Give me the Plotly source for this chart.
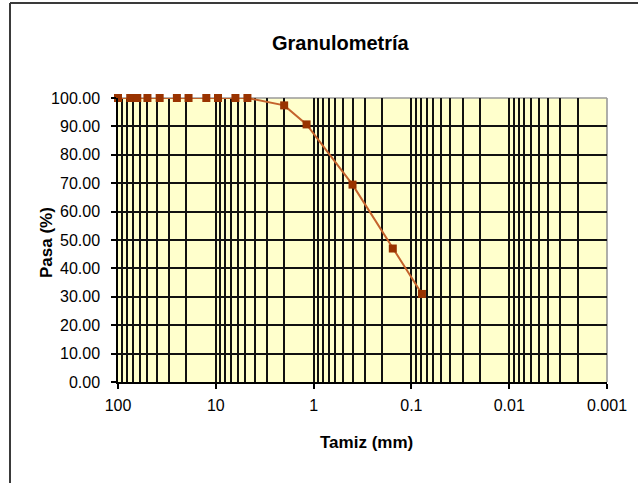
import plotly.graph_objects as go

# ---- data ----
tamiz_mm = [100, 75, 63.5, 50, 37.5, 25, 19, 12.5, 9.5, 6.3, 4.75, 2.0, 1.18, 0.4, 0.155, 0.078]
pasa_pct = [100, 100, 100, 100, 100, 100, 100, 100, 100, 100, 100, 97.4, 90.7, 69.5, 47.0, 31.0]
x_tick_vals = [100, 10, 1, 0.1, 0.01, 0.001]
x_tick_text = ["100", "10", "1", "0.1", "0.01", "0.001"]
y_tick_vals = [0, 10, 20, 30, 40, 50, 60, 70, 80, 90, 100]

W, H = 638, 483
ML, MR, MT, MB = 118, 31, 98, 101
PW, PH = W - ML - MR, H - MT - MB


def px(x):
    return (x - ML) / PW


def py(y):
    return (H - MB - y) / PH


minor_vals = [k * 10.0 ** n for n in range(-3, 2) for k in range(2, 10)]

font = "Liberation Sans, Arial, sans-serif"
grid_c = "#111111"
grid_w = 1.6

fig = go.Figure()
fig.add_trace(go.Scatter(
    x=tamiz_mm, y=pasa_pct, mode="lines+markers",
    line=dict(color="#C4632C", width=2),
    marker=dict(symbol="square", size=8, color="#993300", line=dict(width=0)),
    cliponaxis=False, showlegend=False,
))

fig.update_layout(
    width=W, height=H, autosize=False,
    margin=dict(l=ML, r=MR, t=MT, b=MB, pad=0),
    paper_bgcolor="white", plot_bgcolor="#FFFFCC",
    font=dict(family=font, size=16, color="black"),
    xaxis=dict(
        type="log", range=[2, -3], tickmode="array",
        tickvals=x_tick_vals, ticktext=x_tick_text,
        showgrid=True, gridcolor=grid_c, gridwidth=grid_w,
        showline=True, linecolor="black", linewidth=1.5,
        ticks="outside", ticklen=5, tickcolor="black", tickwidth=1.5,
        ticklabelstandoff=3,
        minor=dict(tickvals=minor_vals, showgrid=True, gridcolor=grid_c,
                   gridwidth=grid_w, ticks=""),
        zeroline=False,
    ),
    yaxis=dict(
        range=[0, 100], tickmode="array", tickvals=y_tick_vals,
        tickformat=".2f",
        showgrid=True, gridcolor=grid_c, gridwidth=grid_w,
        showline=True, linecolor="black", linewidth=1.5,
        ticks="outside", ticklen=5, tickcolor="black", tickwidth=1.5,
        ticklabelstandoff=8, zeroline=False,
    ),
    shapes=[
        dict(type="line", xref="paper", yref="paper", x0=0, x1=1, y0=1, y1=1,
             line=dict(color="#9a9a9a", width=1.6), layer="between"),
        dict(type="line", xref="paper", yref="paper", x0=1, x1=1, y0=0, y1=1,
             line=dict(color="#9a9a9a", width=1.6), layer="between"),
        # outer chart frame (left and top edges visible)
        dict(type="line", xref="paper", yref="paper", x0=px(10), x1=px(10),
             y0=py(3), y1=py(H + 5), line=dict(color="#3a3a3a", width=2)),
        dict(type="line", xref="paper", yref="paper", x0=px(10), x1=px(W + 5),
             y0=py(3), y1=py(3), line=dict(color="#3a3a3a", width=2)),
    ],
    annotations=[
        dict(text="<b>Granulometría</b>", xref="paper", yref="paper",
             x=px(341), y=py(43), xanchor="center", yanchor="middle",
             showarrow=False, font=dict(family=font, size=20, color="black")),
        dict(text="<b>Tamiz (mm)</b>", xref="paper", yref="paper",
             x=px(366), y=py(442), xanchor="center", yanchor="middle",
             showarrow=False, font=dict(family=font, size=17, color="black")),
        dict(text="<b>Pasa (%)</b>", xref="paper", yref="paper",
             x=px(46), y=py(243), xanchor="center", yanchor="middle",
             textangle=-90, showarrow=False,
             font=dict(family=font, size=17, color="black")),
    ],
)

fig.write_html("out.html", config={"displayModeBar": False},
               post_script="document.body.style.margin='0px';")
